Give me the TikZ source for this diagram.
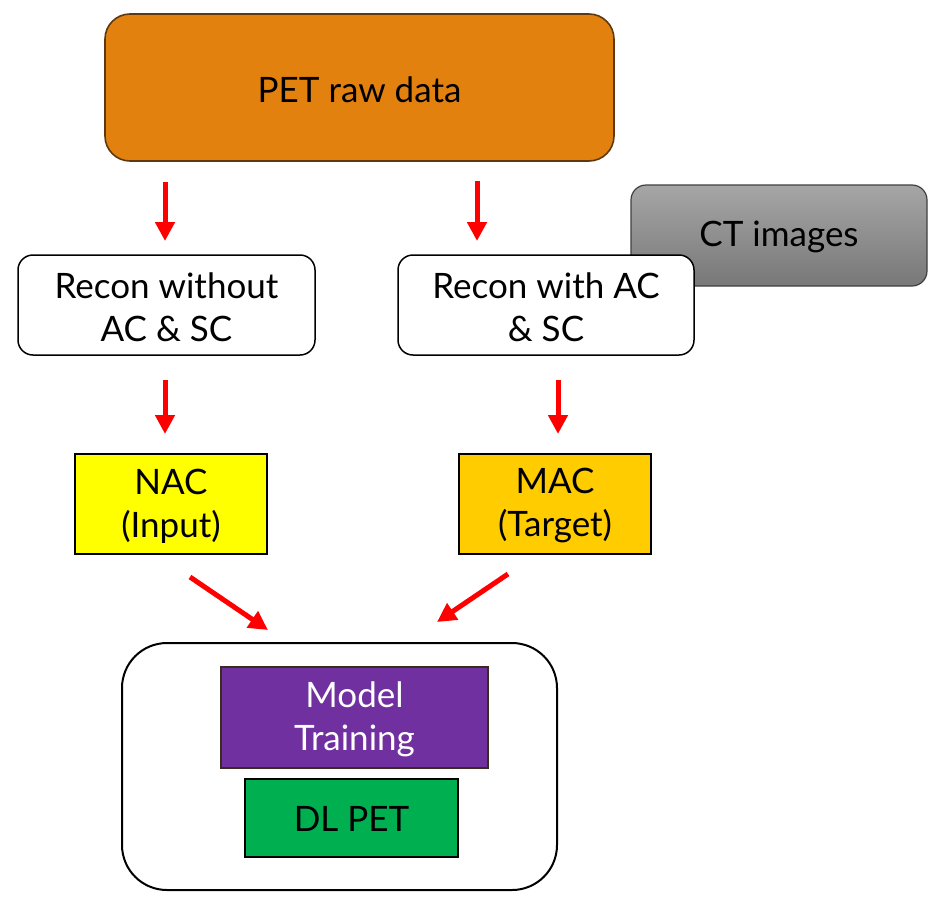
\documentclass[tikz,border=0pt]{standalone}
\usepackage{fontspec}
\setmainfont{Lato}
\usetikzlibrary{arrows.meta}
\definecolor{petorange}{HTML}{E3810F}
\definecolor{petborder}{HTML}{603810}
\definecolor{ctborder}{HTML}{404040}
\definecolor{nacyellow}{HTML}{FFFF00}
\definecolor{macgold}{HTML}{FFCC00}
\definecolor{mtpurple}{HTML}{7030A0}
\definecolor{mtborder}{HTML}{3A2A20}
\definecolor{dlgreen}{HTML}{00B050}
\definecolor{arrred}{HTML}{FF0000}
\tikzset{
  every node/.style={inner sep=0pt, outer sep=0pt, align=center, font=\fontsize{35pt}{43pt}\selectfont},
  roundbox/.style={draw=black, line width=1.5pt, rounded corners=15pt, fill=white},
  flatbox/.style={draw=black, line width=1.5pt},
  arr/.style={draw=arrred, line width=5pt, -{Triangle[width=19pt,length=19pt]}},
}
\begin{document}
\begin{tikzpicture}[x=1pt,y=-1pt]
\useasboundingbox (0,0) rectangle (944,900);
% PET raw data
\node[draw=petborder, line width=1.6pt, fill=petorange, rounded corners=25pt,
      minimum width=509pt, minimum height=147pt] (pet) at (359.5,87.5) {};
\node at (359.5,90) {PET raw data};
% CT images (behind recon with)
\node[draw=ctborder, line width=1.2pt, top color=black!35, bottom color=black!53, rounded corners=15pt,
      minimum width=296pt, minimum height=101pt] (ct) at (779,235.5) {};
\node at (779,237) {CT images};
% Recon boxes
\node[roundbox, minimum width=297pt, minimum height=100pt] (r1) at (166.5,305) {};
\node at (166.5,307) {Recon without\\AC \& SC};
\node[roundbox, minimum width=296pt, minimum height=100pt] (r2) at (546,305) {};
\node at (546,307) {Recon with AC\\\& SC};
% NAC / MAC
\node[flatbox, fill=nacyellow, minimum width=192pt, minimum height=100pt] (nac) at (171,504) {};
\node at (171,506) {NAC\\(Input)};
\node[flatbox, fill=macgold, minimum width=192pt, minimum height=100pt] (mac) at (555,504) {};
\node at (555,506) {MAC\\(Target)};
% Outer container
\node[draw=black, line width=2pt, rounded corners=45pt, minimum width=435pt, minimum height=247pt] (outer) at (339.5,766.5) {};
\node[draw=mtborder, line width=1.5pt, fill=mtpurple, minimum width=267pt, minimum height=101pt] (mt) at (354.5,717.5) {};
\node[text=white] at (354.5,719) {Model\\Training};
\node[flatbox, fill=dlgreen, minimum width=213pt, minimum height=78pt] (dl) at (351.5,818) {};
\node at (351.5,819) {DL PET};
% arrow end points
\coordinate (a1s) at (165,182); \coordinate (a1e) at (165,241);
\coordinate (a2s) at (477,181); \coordinate (a2e) at (477,241);
\coordinate (a3s) at (165,380); \coordinate (a3e) at (165,434);
\coordinate (a4s) at (558,380); \coordinate (a4e) at (558,434);
\coordinate (a5s) at (190,577); \coordinate (a5e) at (268,630);
\coordinate (a6s) at (508,574); \coordinate (a6e) at (437,622);
\draw[arr] (a1s) -- (a1e);
\draw[arr] (a2s) -- (a2e);
\draw[arr] (a3s) -- (a3e);
\draw[arr] (a4s) -- (a4e);
\draw[arr] (a5s) -- (a5e);
\draw[arr] (a6s) -- (a6e);
\end{tikzpicture}
\end{document}
